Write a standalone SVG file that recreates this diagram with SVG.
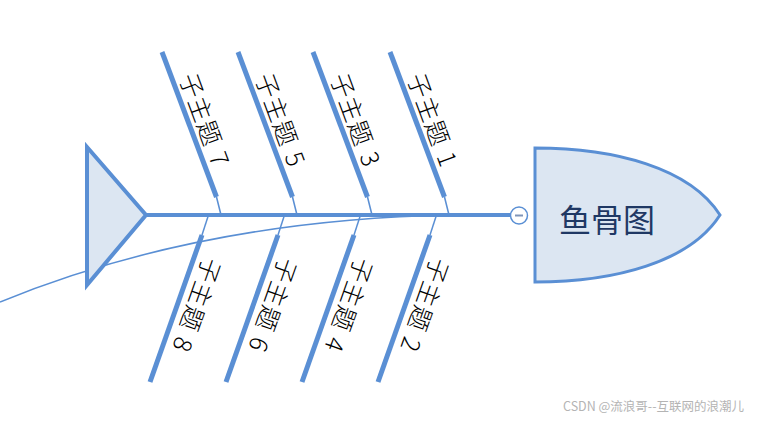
<svg xmlns="http://www.w3.org/2000/svg" width="762" height="423" viewBox="0 0 762 423">
<style>
.bone{stroke:#5a8fd4;stroke-width:5;stroke-linecap:butt;fill:none}
.thin{stroke:#5a8fd4;stroke-width:1.5;fill:none}
.lbl{font-family:"Noto Sans CJK SC","Microsoft YaHei",sans-serif;font-size:24.5px;font-weight:300;letter-spacing:0.8px;word-spacing:2px;fill:#000;dominant-baseline:central}
</style>
<rect width="762" height="423" fill="#fff"/>
<g id="connectors">
<path class="thin" d="M0,302 Q200,220 450,215"/>
<line x1="147" y1="215" x2="511" y2="215" stroke="#5a8fd4" stroke-width="4"/>
<line class="thin" x1="216.5" y1="197" x2="221" y2="215"/>
<line class="thin" x1="292.5" y1="197" x2="297" y2="215"/>
<line class="thin" x1="367.5" y1="197" x2="372" y2="215"/>
<line class="thin" x1="444.5" y1="197" x2="449" y2="215"/>
<line class="thin" x1="208.5" y1="215" x2="202" y2="235"/>
<line class="thin" x1="284.5" y1="215" x2="278" y2="235"/>
<line class="thin" x1="360.5" y1="215" x2="354" y2="235"/>
<line class="thin" x1="436.5" y1="215" x2="430" y2="235"/>
</g>
<g id="tail">
<polygon points="87,147 87,285 146,215" fill="#dce6f2" stroke="#5a8fd4" stroke-width="4" stroke-linejoin="miter"/>
</g>
<g id="head">
<path d="M535,148 C615,148 690,168 720,215 C690,262 615,282 535,282 Z" fill="#dce6f2" stroke="#5a8fd4" stroke-width="3"/>
<text x="607" y="218" text-anchor="middle" font-family="Noto Sans CJK SC, Microsoft YaHei, sans-serif" font-size="32" fill="#1f3864" dominant-baseline="central">鱼骨图</text>
</g>
<g id="collapse">
<circle cx="519" cy="215.5" r="8.5" fill="#fff" stroke="#5a8fd4" stroke-width="1.5"/>
<line x1="515" y1="215.5" x2="523" y2="215.5" stroke="#7f95b8" stroke-width="2"/>
</g>
<g id="topic7">
<line class="bone" x1="162" y1="52" x2="216.5" y2="197"/>
<text class="lbl" transform="translate(188.8,73.5) rotate(69.7)">子主题 7</text>
</g>
<g id="topic5">
<line class="bone" x1="238" y1="52" x2="292.5" y2="197"/>
<text class="lbl" transform="translate(264.8,73.5) rotate(69.7)">子主题 5</text>
</g>
<g id="topic3">
<line class="bone" x1="313" y1="52" x2="367.5" y2="197"/>
<text class="lbl" transform="translate(339.8,73.5) rotate(69.7)">子主题 3</text>
</g>
<g id="topic1">
<line class="bone" x1="390" y1="52" x2="444.5" y2="197"/>
<text class="lbl" transform="translate(416.8,73.5) rotate(69.7)">子主题 1</text>
</g>
<g id="topic8">
<line class="bone" x1="202" y1="235" x2="150" y2="382"/>
<text class="lbl" transform="translate(214.5,259.5) rotate(109.5)">子主题 8</text>
</g>
<g id="topic6">
<line class="bone" x1="278" y1="235" x2="226" y2="382"/>
<text class="lbl" transform="translate(290.5,259.5) rotate(109.5)">子主题 6</text>
</g>
<g id="topic4">
<line class="bone" x1="354" y1="235" x2="302" y2="382"/>
<text class="lbl" transform="translate(366.5,259.5) rotate(109.5)">子主题 4</text>
</g>
<g id="topic2">
<line class="bone" x1="430" y1="235" x2="378" y2="382"/>
<text class="lbl" transform="translate(442.5,259.5) rotate(109.5)">子主题 2</text>
</g>
<text x="563" y="411" font-family="Noto Sans CJK SC, Microsoft YaHei, sans-serif" font-size="12.5" fill="#b4b4b4">CSDN @流浪哥--互联网的浪潮儿</text>
</svg>
